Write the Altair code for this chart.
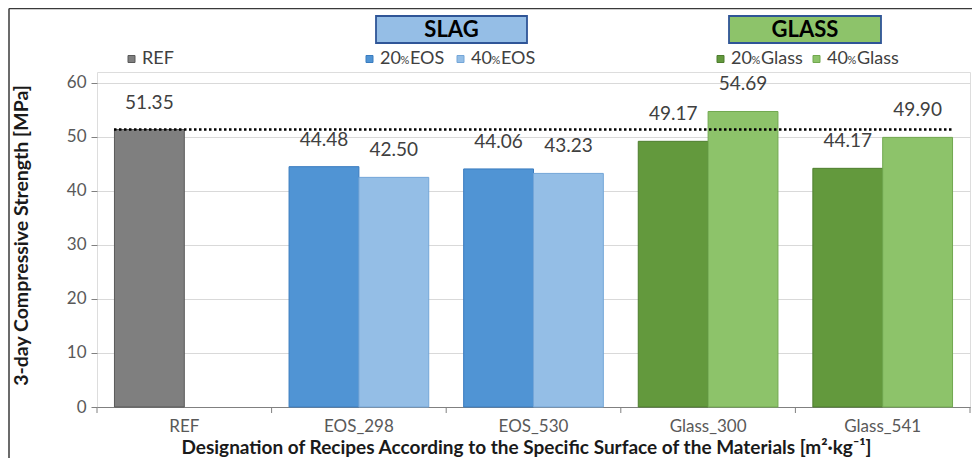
import altair as alt
import pandas as pd

categories = ["REF", "EOS_298", "EOS_530", "Glass_300", "Glass_541"]
series_names = ["REF", "20%EOS", "40%EOS", "20%Glass", "40%Glass"]
ref_value = [51.35]
eos_20 = [44.48, 44.06]
eos_40 = [42.50, 43.23]
glass_20 = [49.17, 44.17]
glass_40 = [54.69, 49.90]
y_ticks = [0, 10, 20, 30, 40, 50, 60]

fills = ["#7F7F7F", "#5094D4", "#94BEE6", "#63993D", "#8DC36A"]
strokes = ["#595959", "#3A7CBF", "#74A6D8", "#4E7D2E", "#71A84F"]

rows = [{"cat": "REF", "slot": "a", "series": "REF", "value": ref_value[0]}]
for i, c in enumerate(["EOS_298", "EOS_530"]):
    rows.append({"cat": c, "slot": "a", "series": "20%EOS", "value": eos_20[i]})
    rows.append({"cat": c, "slot": "b", "series": "40%EOS", "value": eos_40[i]})
for i, c in enumerate(["Glass_300", "Glass_541"]):
    rows.append({"cat": c, "slot": "a", "series": "20%Glass", "value": glass_20[i]})
    rows.append({"cat": c, "slot": "b", "series": "40%Glass", "value": glass_40[i]})
df = pd.DataFrame(rows)
df["label"] = df["value"].map(lambda v: f"{v:.2f}")

FONT = "Lato"
W, H = 873, 335
STEP = W / len(categories)
HALF_GAP = STEP * 0.1

x_scale = alt.Scale(domain=categories, paddingInner=0.2, paddingOuter=0.1)
x_enc = alt.X(
    "cat:N",
    sort=categories,
    scale=x_scale,
    axis=alt.Axis(
        ticks=False, labelAngle=0, domainColor="#808080",
        labelFont=FONT, labelFontSize=17, labelColor="#595959", labelPadding=11,
        title="Designation of Recipes According to the Specific Surface of the Materials [m²·kg⁻¹]",
        titleFont=FONT, titleFontSize=19, titleFontWeight="bold", titleColor="#1a1a1a",
        titleX=429, titleY=40, titleAlign="center", titleBaseline="middle", grid=False,
    ),
)
xo_enc = alt.XOffset("slot:N", scale=alt.Scale(domain=["a", "b"], paddingInner=0, paddingOuter=0))
y_enc = alt.Y(
    "value:Q",
    scale=alt.Scale(domain=[0, 62], nice=False),
    axis=alt.Axis(
        values=y_ticks, grid=True, gridColor="#D9D9D9", domain=False, tickSize=6,
        tickColor="#808080", labelFont=FONT, labelFontSize=17, labelColor="#595959",
        labelPadding=5, title="3-day Compressive Strength [MPa]", titleFont=FONT,
        titleFontSize=19.5, titleFontWeight="bold", titleColor="#1a1a1a",
        titleX=-76, titleY=163, titleAngle=270, titleAlign="center", titleBaseline="middle",
    ),
)

base = alt.Chart(df)
bars = base.mark_bar(strokeWidth=1).encode(
    x=x_enc, xOffset=xo_enc, y=y_enc,
    color=alt.Color("series:N", scale=alt.Scale(domain=series_names, range=fills), legend=None),
    stroke=alt.Stroke("series:N", scale=alt.Scale(domain=series_names, range=strokes), legend=None),
)
labels = base.mark_text(dy=-27, fontSize=19, font=FONT, color="#404040", baseline="middle").encode(
    x=alt.X("cat:N", sort=categories), xOffset="slot:N", y="value:Q", text="label:N"
)
ref_line = alt.Chart(pd.DataFrame({"v": ref_value})).mark_rule(
    strokeDash=[2.5, 2.5], strokeWidth=2.5, color="#000000"
).encode(y="v:Q", x=alt.value(17), x2=alt.value(856))

# category boundary ticks (midway between groups, through the x scale)
cat_df = pd.DataFrame({"cat": categories})
tick_left = alt.Chart(cat_df).mark_rule(color="#808080", strokeWidth=1, xOffset=-HALF_GAP).encode(
    x=alt.X("cat:N", sort=categories, bandPosition=0),
    y=alt.value(H), y2=alt.value(H + 6))
last_df = pd.DataFrame({"cat": categories[-1:]})
tick_right = alt.Chart(last_df).mark_rule(color="#808080", strokeWidth=1, xOffset=HALF_GAP).encode(
    x=alt.X("cat:N", sort=categories, bandPosition=1),
    y=alt.value(H), y2=alt.value(H + 6))

one = pd.DataFrame({"k": [0]})
layers = [bars, labels, ref_line, tick_left, tick_right]

# outer frame (top and left edges visible)
layers.append(alt.Chart(one).mark_rule(color="#3a3a3a", strokeWidth=1.5).encode(
    x=alt.value(-88), y=alt.value(-63.5), y2=alt.value(400)))
layers.append(alt.Chart(one).mark_rule(color="#3a3a3a", strokeWidth=1.5).encode(
    x=alt.value(-88), x2=alt.value(900), y=alt.value(-63.5)))

# group boxes
def group_box(x0, x1, fill, text):
    b = alt.Chart(one).mark_rect(fill=fill, stroke="#2F5597", strokeWidth=1.8).encode(
        x=alt.value(x0), x2=alt.value(x1), y=alt.value(-56), y2=alt.value(-29))
    t = alt.Chart(one).mark_text(font=FONT, fontSize=22, fontWeight="bold", color="#000000",
                                 baseline="middle", align="center").encode(
        x=alt.value((x0 + x1) / 2), y=alt.value(-42), text=alt.value(text))
    return [b, t]

layers += group_box(279, 430, "#95BEE6", "SLAG")
layers += group_box(632, 784, "#8DC36A", "GLASS")

# custom legend
LY = -13
def legend_item(sq_x, color, stroke, parts):
    out = [alt.Chart(one).mark_rect(fill=color, stroke=stroke, strokeWidth=1).encode(
        x=alt.value(sq_x), x2=alt.value(sq_x + 7), y=alt.value(LY - 3.5), y2=alt.value(LY + 3.5))]
    tx = sq_x + 14
    for txt, size, width in parts:
        out.append(alt.Chart(one).mark_text(font=FONT, fontSize=size, color="#404040",
                                            baseline="middle", align="left").encode(
            x=alt.value(tx), y=alt.value(LY + (1.5 if size < 17 else 0)), text=alt.value(txt)))
        tx += width
    return out

layers += legend_item(31, fills[0], strokes[0], [("REF", 18, 30)])
layers += legend_item(269, fills[1], strokes[1], [("20", 18, 20.5), ("%", 11, 9.5), ("EOS", 18, 34)])
layers += legend_item(360, fills[2], strokes[2], [("40", 18, 20.5), ("%", 11, 9.5), ("EOS", 18, 34)])
layers += legend_item(620, fills[3], strokes[3], [("20", 18, 20.5), ("%", 11, 9.5), ("Glass", 18, 45)])
layers += legend_item(716, fills[4], strokes[4], [("40", 18, 20.5), ("%", 11, 9.5), ("Glass", 18, 45)])

chart = alt.layer(*layers).properties(
    width=W, height=H,
    autosize=alt.AutoSizeParams(type="none"),
    padding={"left": 89, "top": 64, "right": 2, "bottom": 51},
).configure_view(stroke="#808080", strokeWidth=1.2).configure(background="white")

chart.save("out.html", embed_options={"renderer": "svg", "actions": False})
